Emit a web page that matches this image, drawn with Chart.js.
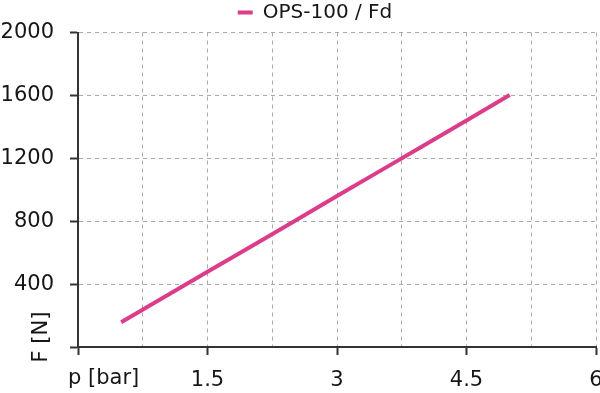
<!DOCTYPE html>
<html>
<head>
<meta charset="utf-8">
<script src="https://cdn.jsdelivr.net/npm/chart.js@4"></script>
<style>
html, body { margin: 0; padding: 0; background: #fff; }
</style>
</head>
<body>
<canvas id="chart" width="600" height="393"></canvas>
<script>
// data
var pressures = [0.5, 1, 1.5, 2, 2.5, 3, 3.5, 4, 4.5, 5];
var forces = [158, 318, 478, 638, 798, 960, 1120, 1280, 1440, 1602];
var seriesName = 'OPS-100 / Fd';
var xTitle = 'p [bar]';
var yTitle = 'F [N]';
var xLabelledTicks = [1.5, 3, 4.5, 6];

var lineColor = '#db3d8b';
var textColor = '#161616';
var axisColor = '#333';
var gridColor = '#aaa';
var fontFamily = '"DejaVu Sans", sans-serif';

Chart.defaults.font.family = fontFamily;
Chart.defaults.font.size = 21;
Chart.defaults.color = textColor;

function isLabelled(v) {
    return xLabelledTicks.some(function (t) { return Math.abs(t - v) < 1e-6; });
}

var axisTitles = {
    id: 'axisTitles',
    afterLayout: function (chart) {
        // the reference legend sits a little right of the canvas centre
        chart.legend.left += 17;
        chart.legend.right += 17;
    },
    afterDraw: function (chart) {
        var ctx = chart.ctx;
        var area = chart.chartArea;
        ctx.save();
        ctx.font = '21px ' + fontFamily;
        ctx.fillStyle = textColor;
        ctx.textBaseline = 'middle';
        ctx.textAlign = 'left';
        ctx.fillText(xTitle, area.left - 10, area.bottom + 32);
        ctx.translate(area.left - 36, area.bottom - 10);
        ctx.rotate(-Math.PI / 2);
        ctx.textAlign = 'center';
        ctx.fillText(yTitle, 0, 0);
        ctx.restore();
    }
};

var data = pressures.map(function (p, i) { return { x: p, y: forces[i] }; });

var chart = new Chart(document.getElementById('chart').getContext('2d'), {
    type: 'line',
    data: {
        datasets: [{
            label: seriesName,
            data: data,
            borderColor: lineColor,
            backgroundColor: lineColor,
            borderWidth: 4,
            pointRadius: 0,
            fill: false,
            tension: 0
        }]
    },
    options: {
        responsive: false,
        animation: false,
        layout: { padding: { top: 0, right: 4, bottom: 0, left: 0 } },
        plugins: {
            tooltip: { enabled: false },
            legend: {
                position: 'top',
                labels: {
                    boxWidth: 15,
                    boxHeight: 4,
                    padding: 2.5,
                    color: textColor,
                    font: { size: 20 },
                    generateLabels: function (chart) {
                        var items = Chart.defaults.plugins.legend.labels.generateLabels(chart);
                        items.forEach(function (it) { it.lineWidth = 0; it.fillStyle = lineColor; });
                        return items;
                    }
                }
            }
        },
        scales: {
            x: {
                type: 'linear',
                min: 0,
                max: 6,
                afterFit: function (scale) {
                    scale.height = 46;
                    scale.paddingLeft = 0;
                    scale.paddingRight = 0;
                },
                ticks: {
                    stepSize: 0.75,
                    autoSkip: false,
                    maxRotation: 0,
                    padding: 13,
                    color: textColor,
                    callback: function (v) { return (v !== 0 && isLabelled(v)) ? String(v) : ''; }
                },
                grid: {
                    color: function (c) { return c.tick && c.tick.value === 0 ? 'rgba(0,0,0,0)' : gridColor; },
                    lineWidth: 1,
                    tickLength: 8,
                    tickWidth: 2,
                    tickColor: function (c) { return c.tick && (c.tick.value === 0 || isLabelled(c.tick.value)) ? axisColor : 'rgba(0,0,0,0)'; }
                },
                border: { color: axisColor, width: 2, dash: [4, 4] }
            },
            y: {
                min: 0,
                max: 2000,
                afterFit: function (scale) {
                    scale.width = 78;
                    scale.paddingTop = 0;
                    scale.paddingBottom = 0;
                },
                ticks: {
                    stepSize: 400,
                    padding: 16,
                    color: textColor,
                    callback: function (v) { return v === 0 ? '' : String(v); }
                },
                grid: {
                    color: function (c) { return c.tick && c.tick.value === 0 ? 'rgba(0,0,0,0)' : gridColor; },
                    lineWidth: 1,
                    tickLength: 8,
                    tickWidth: 2,
                    tickColor: axisColor
                },
                border: { color: axisColor, width: 2, dash: [4, 4] }
            }
        }
    },
    plugins: [axisTitles]
});
</script>
</body>
</html>
